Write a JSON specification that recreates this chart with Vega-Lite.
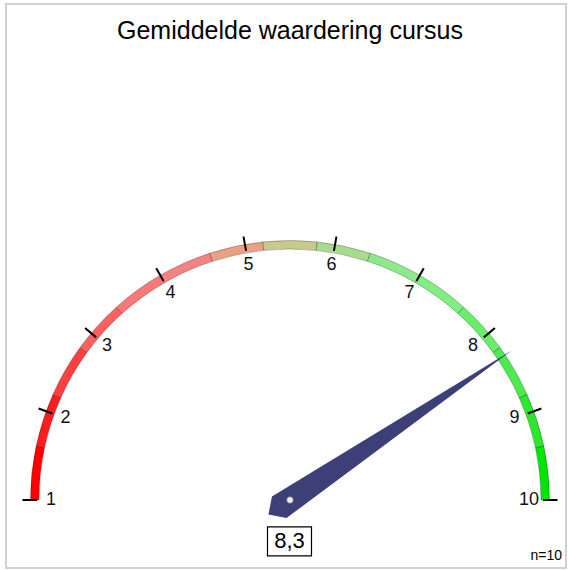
{
  "$schema": "https://vega.github.io/schema/vega-lite/v6.json",
  "width": 560,
  "height": 564,
  "autosize": "none",
  "padding": {"left": 6, "top": 4, "right": 3, "bottom": 3},
  "background": "white",
  "config": {
    "view": {"stroke": "#d0d0d0", "strokeWidth": 2},
    "font": "Liberation Sans",
    "locale": {"number": {"decimal": ",", "thousands": ".", "grouping": [3], "currency": ["€", ""]}}
  },
  "title": {"text": "Gemiddelde waardering cursus", "fontSize": 25, "fontWeight": "normal", "font": "Liberation Sans", "color": "black", "offset": -40, "dx": 4},
  "datasets": {
    "segments": [
      {"seg": 1, "start": 1.0, "end": 1.6},
      {"seg": 2, "start": 1.6, "end": 2.2},
      {"seg": 3, "start": 2.2, "end": 2.8},
      {"seg": 4, "start": 2.8, "end": 3.4},
      {"seg": 5, "start": 3.4, "end": 4.0},
      {"seg": 6, "start": 4.0, "end": 4.6},
      {"seg": 7, "start": 4.6, "end": 5.2},
      {"seg": 8, "start": 5.2, "end": 5.8},
      {"seg": 9, "start": 5.8, "end": 6.4},
      {"seg": 10, "start": 6.4, "end": 7.0},
      {"seg": 11, "start": 7.0, "end": 7.6},
      {"seg": 12, "start": 7.6, "end": 8.2},
      {"seg": 13, "start": 8.2, "end": 8.8},
      {"seg": 14, "start": 8.8, "end": 9.4},
      {"seg": 15, "start": 9.4, "end": 10.0}
    ],
    "ticks": [
      {"v": 1}, {"v": 2}, {"v": 3}, {"v": 4}, {"v": 5},
      {"v": 6}, {"v": 7}, {"v": 8}, {"v": 9}, {"v": 10}
    ],
    "score": [{"value": 8.3, "n": 10}]
  },
  "layer": [
    {
      "data": {"name": "segments"},
      "mark": {"type": "arc", "innerRadius": 251, "outerRadius": 259.5, "stroke": "#000000", "strokeOpacity": 0.32, "strokeWidth": 0.8},
      "encoding": {
        "x": {"datum": 0, "type": "quantitative", "scale": {"domain": [-1.11373, 1.08235], "nice": false, "zero": false}, "axis": null},
        "y": {"datum": 0, "type": "quantitative", "scale": {"domain": [-0.26667, 1.9451], "nice": false, "zero": false}, "axis": null},
        "theta": {"field": "start", "type": "quantitative", "scale": {"domain": [1, 10], "range": [-1.5707963, 1.5707963]}},
        "theta2": {"field": "end"},
        "color": {
          "field": "seg", "type": "ordinal", "legend": null,
          "scale": {
            "domain": [1, 2, 3, 4, 5, 6, 7, 8, 9, 10, 11, 12, 13, 14, 15],
            "range": ["#ff0000", "#ff1c1c", "#ff4040", "#ff6060", "#fb7878", "#f48282", "#eba084", "#c9c98e", "#a6dc8c", "#8cea8c", "#80ee80", "#68ee68", "#4cea4c", "#2ce82c", "#00e600"]
          }
        }
      }
    },
    {
      "data": {"name": "ticks"},
      "mark": {"type": "arc", "innerRadius": 253, "outerRadius": 267.5, "stroke": "#000000", "strokeWidth": 2, "fill": "#000000"},
      "encoding": {
        "x": {"datum": 0, "type": "quantitative"},
        "y": {"datum": 0, "type": "quantitative"},
        "theta": {"field": "v", "type": "quantitative", "scale": {"domain": [1, 10], "range": [-1.5707963, 1.5707963]}},
        "theta2": {"field": "v"}
      }
    },
    {
      "data": {"name": "ticks"},
      "mark": {"type": "text", "radius": 239, "fontSize": 18, "align": "center", "baseline": "middle", "color": "#111111"},
      "encoding": {
        "x": {"datum": 0, "type": "quantitative"},
        "y": {"datum": 0, "type": "quantitative"},
        "theta": {"field": "v", "type": "quantitative", "scale": {"domain": [1, 10], "range": [-1.5707963, 1.5707963]}},
        "text": {"field": "v", "type": "quantitative"}
      }
    },
    {
      "data": {"name": "score"},
      "mark": {"type": "point", "shape": "M0,-1L0.0485,0.0485L0,0.097L-0.0485,0.0485Z", "size": 287296, "filled": true, "color": "#3c3f78", "opacity": 1, "strokeWidth": 0},
      "encoding": {
        "x": {"datum": 0, "type": "quantitative"},
        "y": {"datum": 0, "type": "quantitative"},
        "angle": {"field": "value", "type": "quantitative", "scale": {"domain": [1, 10], "range": [-90, 90]}}
      }
    },
    {
      "data": {"name": "score"},
      "mark": {"type": "point", "shape": "circle", "size": 50, "filled": true, "fill": "#eeeeee", "stroke": "#555555", "strokeWidth": 1, "opacity": 1},
      "encoding": {
        "x": {"datum": 0, "type": "quantitative"},
        "y": {"datum": 0, "type": "quantitative"}
      }
    },
    {
      "data": {"name": "score"},
      "mark": {"type": "point", "shape": "M-1,-0.66L1,-0.66L1,0.66L-1,0.66Z", "size": 1936, "filled": true, "fill": "#ffffff", "stroke": "#000000", "strokeWidth": 1.2, "opacity": 1},
      "encoding": {
        "x": {"datum": -0.002, "type": "quantitative"},
        "y": {"datum": -0.162, "type": "quantitative"}
      }
    },
    {
      "data": {"name": "score"},
      "mark": {"type": "text", "fontSize": 22, "align": "center", "baseline": "middle", "color": "#000000"},
      "encoding": {
        "x": {"datum": -0.002, "type": "quantitative"},
        "y": {"datum": -0.162, "type": "quantitative"},
        "text": {"field": "value", "type": "quantitative", "format": ".1f"}
      }
    },
    {
      "data": {"name": "score"},
      "transform": [{"calculate": "'n=' + datum.n", "as": "label"}],
      "mark": {"type": "text", "fontSize": 14, "align": "right", "baseline": "alphabetic", "color": "#000000"},
      "encoding": {
        "x": {"datum": 1.0667, "type": "quantitative"},
        "y": {"datum": -0.2353, "type": "quantitative"},
        "text": {"field": "label", "type": "nominal"}
      }
    }
  ]
}
